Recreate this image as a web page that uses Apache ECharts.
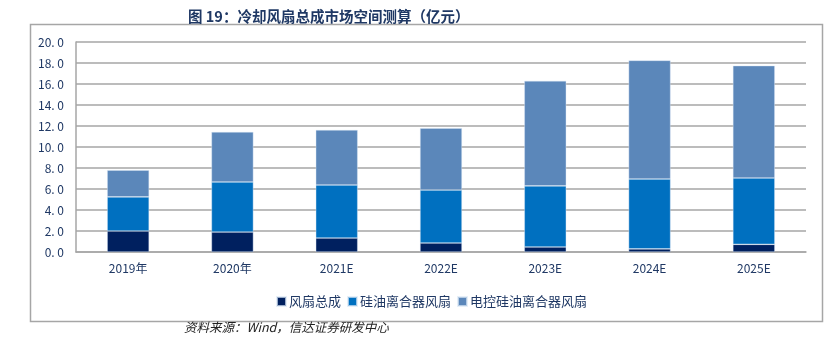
<!DOCTYPE html>
<html>
<head>
<meta charset="utf-8">
<script src="https://cdn.jsdelivr.net/npm/echarts@6/dist/echarts.min.js"></script>
<style>
html,body{margin:0;padding:0;background:#fff;}
#c{width:830px;height:340px;}
</style>
</head>
<body>
<div id="c"></div>
<script>
var categories = ['2019年', '2020年', '2021E', '2022E', '2023E', '2024E', '2025E'];
var fanAssembly = [2.0, 1.9, 1.33, 0.86, 0.48, 0.3, 0.73];
var siliconeOilFan = [3.25, 4.77, 5.05, 5.04, 5.82, 6.65, 6.32];
var eSiliconeOilFan = [2.55, 4.76, 5.24, 5.9, 10.0, 11.3, 10.7];
var seriesNames = ['风扇总成', '硅油离合器风扇', '电控硅油离合器风扇'];
var yTicks = {min: 0, max: 20, interval: 2};

var colors = ['#00205F', '#0070C0', '#5B87BA'];
var font = '"Noto Sans CJK SC", "Noto Sans", sans-serif';
var chart = echarts.init(document.getElementById('c'));
function mk(name, data, color) {
  return {
    name: name, type: 'bar', stack: 'total', data: data, barWidth: 42,
    itemStyle: {color: color, borderColor: 'rgba(220,232,245,0.7)', borderWidth: 0.6},
    emphasis: {disabled: true}
  };
}
chart.setOption({
  animation: false,
  title: {
    text: '图 19：冷却风扇总成市场空间测算（亿元）',
    left: 183, top: 4,
    textStyle: {fontFamily: font, fontSize: 14.5, fontWeight: 'bold', color: '#1F3864'}
  },
  graphic: [
    {type: 'rect', shape: {x: 30.5, y: 24.5, width: 792, height: 297}, style: {fill: 'none', stroke: '#a6a6a6', lineWidth: 1.5}, silent: true},
    {type: 'text', left: 184, top: 321, style: {text: '资料来源：Wind，信达证券研发中心', font: 'italic 12.5px ' + font, fill: '#222'}}
  ],
  legend: {
    data: seriesNames, left: 271, top: 290, itemWidth: 9, itemHeight: 9, itemGap: 6,
    icon: 'rect',
    textStyle: {fontFamily: font, fontSize: 13, color: '#1F3864', padding: [0, 0, 0, -2]}
  },
  grid: {left: 76, right: 24, top: 42, bottom: 88},
  xAxis: {
    type: 'category', data: categories,
    axisLine: {lineStyle: {color: '#a6a6a6', width: 1.5}},
    axisTick: {show: false},
    axisLabel: {fontFamily: font, fontSize: 12, color: '#1F3864', margin: 10}
  },
  yAxis: {
    type: 'value', min: yTicks.min, max: yTicks.max, interval: yTicks.interval,
    axisLine: {show: true, lineStyle: {color: '#a6a6a6', width: 1.5}},
    axisTick: {show: false},
    splitLine: {lineStyle: {color: '#a6a6a6', width: 1.5}},
    axisLabel: {fontFamily: font, fontSize: 12, color: '#1F3864', margin: 12,
      formatter: function (v) { return v.toFixed(1).replace('.', '. '); }}
  },
  series: [
    mk(seriesNames[0], fanAssembly, colors[0]),
    mk(seriesNames[1], siliconeOilFan, colors[1]),
    mk(seriesNames[2], eSiliconeOilFan, colors[2])
  ]
});
</script>
</body>
</html>
